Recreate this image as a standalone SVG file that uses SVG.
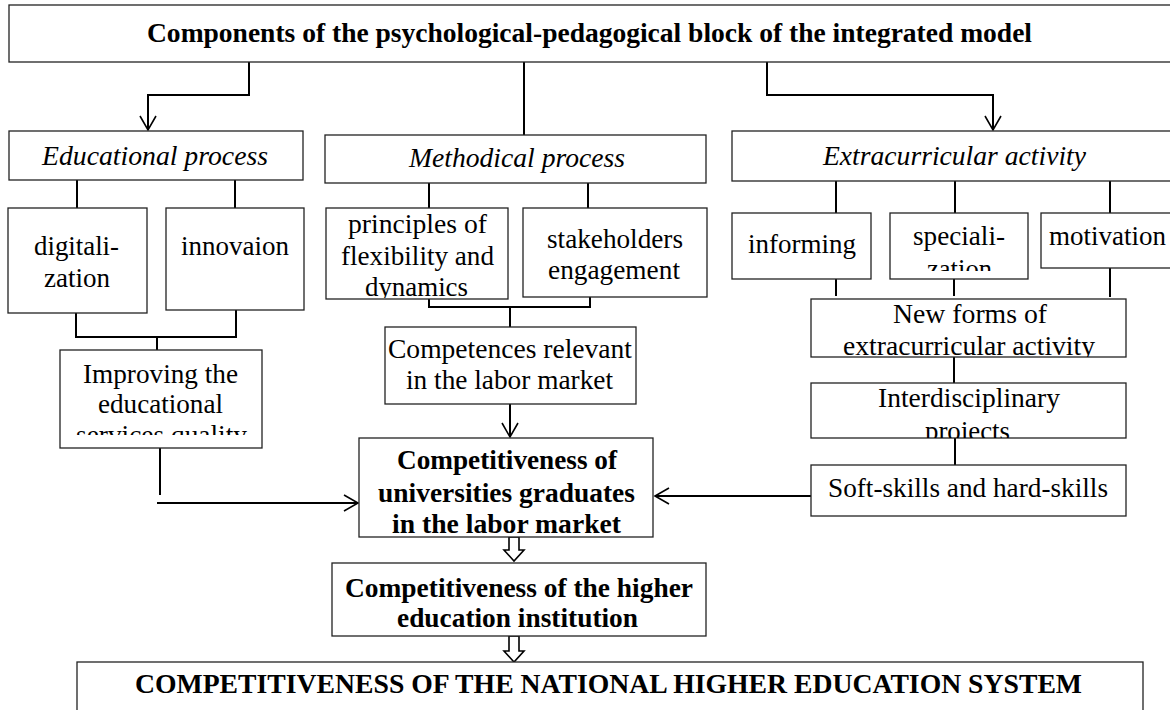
<svg xmlns="http://www.w3.org/2000/svg" width="1170" height="710" viewBox="0 0 1170 710">
<style>
.box{fill:#fff;stroke:#222;stroke-width:1.3}
.t{font-family:'Liberation Serif','DejaVu Serif',serif;font-size:27.5px;fill:#000}
.b{font-weight:bold}
.i{font-style:italic}
.c{fill:none;stroke:#000;stroke-width:2}
.h{fill:#fff;stroke:#000;stroke-width:1.6}
</style>
<defs>
<marker id="ah" markerUnits="userSpaceOnUse" markerWidth="20" markerHeight="20" refX="14" refY="8" orient="auto" overflow="visible">
<path d="M0,0 L14,8 L0,16" fill="none" stroke="#000" stroke-width="1.6"/>
</marker>
<clipPath id="cImp"><rect x="55" y="345" width="215" height="90"/></clipPath>
<clipPath id="cPri"><rect x="320" y="205" width="195" height="93"/></clipPath>
<clipPath id="cSpe"><rect x="885" y="210" width="150" height="61"/></clipPath>
<clipPath id="cNew"><rect x="805" y="295" width="330" height="62"/></clipPath>
<clipPath id="cInt"><rect x="805" y="380" width="330" height="58"/></clipPath>
</defs>

<g id="connectors">
<path class="c" d="M249,62 V95 H148 V130" marker-end="url(#ah)"/>
<path class="c" d="M524,62 V135"/>
<path class="c" d="M767,62 V95 H993 V130" marker-end="url(#ah)"/>
<path class="c" d="M77,180 V208 M235,180 V208"/>
<path class="c" d="M76,313 V337 H236 V310 M157,337 V357"/>
<path class="c" d="M429,183 V211 M588,183 V210"/>
<path class="c" d="M429,287 V307 H590 V280 M510,306 V327"/>
<path class="c" d="M510,404 V437" marker-end="url(#ah)"/>
<path class="c" d="M160,448 V495"/>
<path class="c" d="M157,503 H358" marker-end="url(#ah)"/>
<path class="c" d="M811,496 H655" marker-end="url(#ah)"/>
<path class="c" d="M836,181 V218 M955,181 V213 M1110,181 V213"/>
<path class="c" d="M836,279 V296 M954,270 V296 M1110,268 V297"/>
<path class="c" d="M954,350 V383"/>
<path class="c" d="M955,438 V465"/>
<path class="h" d="M509,537 V550 H504 L514,561 L524,550 H519 V537 Z"/>
<path class="h" d="M509,636 V651 H504 L514,662 L524,651 H519 V636 Z"/>
</g>

<g id="title">
<rect class="box" x="9" y="5" width="1170" height="57"/>
<text class="t b" font-family="Liberation Serif" x="147" y="42" textLength="885" lengthAdjust="spacingAndGlyphs">Components of the psychological-pedagogical block of the integrated model</text>
</g>

<g id="educational">
<rect class="box" x="9" y="131" width="294" height="49"/>
<text class="t i" x="42" y="165" textLength="226" lengthAdjust="spacingAndGlyphs">Educational process</text>
</g>
<g id="methodical">
<rect class="box" x="325" y="135" width="381" height="48"/>
<text class="t i" x="409" y="167" textLength="216" lengthAdjust="spacingAndGlyphs">Methodical process</text>
</g>
<g id="extracurricular">
<rect class="box" x="732" y="131" width="450" height="50"/>
<text class="t i" x="823" y="165" textLength="263" lengthAdjust="spacingAndGlyphs">Extracurricular activity</text>
</g>

<g id="digitalization">
<rect class="box" x="8" y="208" width="139" height="105"/>
<text class="t" x="34" y="255" textLength="85" lengthAdjust="spacingAndGlyphs">digitali-</text>
<text class="t" x="44" y="287" textLength="66" lengthAdjust="spacingAndGlyphs">zation</text>
</g>
<g id="innovation">
<rect class="box" x="166" y="208" width="138" height="102"/>
<text class="t" x="181" y="255" textLength="108" lengthAdjust="spacingAndGlyphs">innovaion</text>
</g>
<g id="principles">
<rect class="box" x="326" y="208" width="182" height="91"/>
<g clip-path="url(#cPri)">
<text class="t" x="348" y="233" textLength="139" lengthAdjust="spacingAndGlyphs">principles of</text>
<text class="t" x="341" y="265" textLength="153" lengthAdjust="spacingAndGlyphs">flexibility and</text>
<text class="t" x="365" y="296" textLength="103" lengthAdjust="spacingAndGlyphs">dynamics</text>
</g>
</g>
<g id="stakeholders">
<rect class="box" x="523" y="208" width="184" height="89"/>
<text class="t" x="547" y="248" textLength="136" lengthAdjust="spacingAndGlyphs">stakeholders</text>
<text class="t" x="548" y="279" textLength="132" lengthAdjust="spacingAndGlyphs">engagement</text>
</g>
<g id="competences">
<rect class="box" x="385" y="327" width="251" height="77"/>
<text class="t" x="388" y="358" textLength="244" lengthAdjust="spacingAndGlyphs">Competences relevant</text>
<text class="t" x="406" y="389" textLength="207" lengthAdjust="spacingAndGlyphs">in the labor market</text>
</g>
<g id="improving">
<rect class="box" x="60" y="350" width="202" height="98"/>
<g clip-path="url(#cImp)">
<text class="t" x="83" y="383" textLength="155" lengthAdjust="spacingAndGlyphs">Improving the</text>
<text class="t" x="98" y="413" textLength="125" lengthAdjust="spacingAndGlyphs">educational</text>
<text class="t" x="76" y="444" textLength="171" lengthAdjust="spacingAndGlyphs">services quality</text>
</g>
</g>
<g id="graduates">
<rect class="box" x="359" y="438" width="294" height="99"/>
<text class="t b" x="397" y="469" textLength="220" lengthAdjust="spacingAndGlyphs">Competitiveness of</text>
<text class="t b" x="378" y="502" textLength="257" lengthAdjust="spacingAndGlyphs">universities graduates</text>
<text class="t b" x="392" y="533" textLength="229" lengthAdjust="spacingAndGlyphs">in the labor market</text>
</g>

<g id="informing">
<rect class="box" x="732" y="213" width="139" height="66"/>
<text class="t" x="748" y="253" textLength="108" lengthAdjust="spacingAndGlyphs">informing</text>
</g>
<g id="specialization">
<rect class="box" x="890" y="213" width="138" height="66"/>
<g clip-path="url(#cSpe)">
<text class="t" x="913" y="245" textLength="92" lengthAdjust="spacingAndGlyphs">speciali-</text>
<text class="t" x="927" y="278" textLength="65" lengthAdjust="spacingAndGlyphs">zation</text>
</g>
</g>
<g id="motivation">
<rect class="box" x="1041" y="213" width="140" height="55"/>
<text class="t" x="1049" y="245" textLength="117" lengthAdjust="spacingAndGlyphs">motivation</text>
</g>
<g id="newforms">
<rect class="box" x="811" y="299" width="315" height="58"/>
<g clip-path="url(#cNew)">
<text class="t" x="893" y="323" textLength="154" lengthAdjust="spacingAndGlyphs">New forms of</text>
<text class="t" x="843" y="355" textLength="252" lengthAdjust="spacingAndGlyphs">extracurricular activity</text>
</g>
</g>
<g id="interdisciplinary">
<rect class="box" x="811" y="383" width="315" height="55"/>
<g clip-path="url(#cInt)">
<text class="t" x="878" y="407" textLength="182" lengthAdjust="spacingAndGlyphs">Interdisciplinary</text>
<text class="t" x="925" y="440" textLength="85" lengthAdjust="spacingAndGlyphs">projects</text>
</g>
</g>
<g id="softskills">
<rect class="box" x="811" y="465" width="315" height="51"/>
<text class="t" x="828" y="497" textLength="280" lengthAdjust="spacingAndGlyphs">Soft-skills and hard-skills</text>
</g>

<g id="institution">
<rect class="box" x="332" y="563" width="374" height="73"/>
<text class="t b" x="345" y="597" textLength="348" lengthAdjust="spacingAndGlyphs">Competitiveness of the higher</text>
<text class="t b" x="397" y="627" textLength="241" lengthAdjust="spacingAndGlyphs">education institution</text>
</g>
<g id="national">
<rect class="box" x="77" y="662" width="1066" height="60"/>
<text class="t b" x="135" y="693" textLength="947" lengthAdjust="spacingAndGlyphs">COMPETITIVENESS OF THE NATIONAL HIGHER EDUCATION SYSTEM</text>
</g>
</svg>
